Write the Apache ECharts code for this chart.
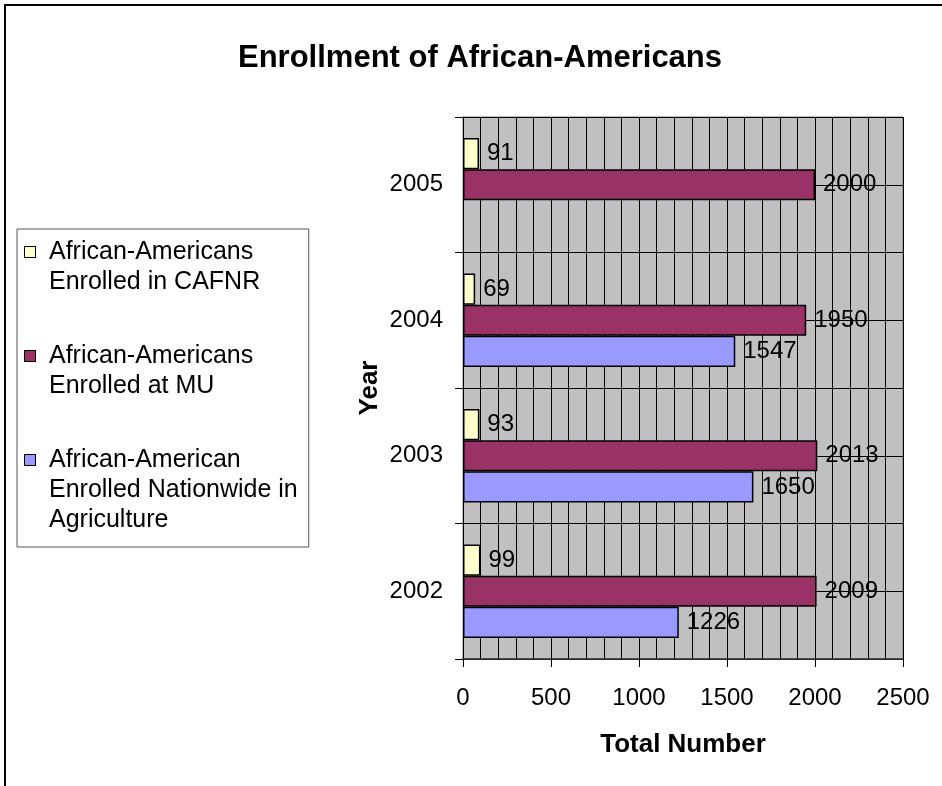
<!DOCTYPE html>
<html>
<head>
<meta charset="utf-8">
<script src="https://cdn.jsdelivr.net/npm/echarts@6/dist/echarts.min.js"></script>
<style>
  html, body { margin: 0; padding: 0; background: #fff; }
  #chart { width: 942px; height: 786px; }
</style>
</head>
<body>
<div id="chart"></div>
<script>
const years = ['2002', '2003', '2004', '2005'];
const seriesNames = [
  'African-Americans\nEnrolled in CAFNR',
  'African-Americans\nEnrolled at MU',
  'African-American\nEnrolled Nationwide in\nAgriculture'
];
const cafnr = [99, 93, 69, 91];
const mu = [2009, 2013, 1950, 2000];
const nationwide = [1226, 1650, 1547, '-'];
const colors = ['#FFFFCC', '#993366', '#9999FF'];

const font = 'Liberation Sans, Arial, sans-serif';
const myChart = echarts.init(document.getElementById('chart'));

// legend marker sits on the first line of each name, so draw it with rich text
const rich = { gap: { width: 14 }, pad: { width: 24 } };
colors.forEach((c, i) => {
  rich['m' + i] = { width: 10, height: 10, backgroundColor: c, borderColor: '#000', borderWidth: 1 };
});

function barSeries(name, values, color) {
  return {
    name: name,
    type: 'bar',
    data: values,
    barGap: '0%',
    barCategoryGap: '31%',
    itemStyle: { color: color, borderColor: '#000', borderWidth: 1.5 },
    label: {
      show: true,
      position: 'right',
      distance: 8,
      fontSize: 24,
      color: '#000',
      fontFamily: font
    }
  };
}

let option = {
  animation: false,
  backgroundColor: '#fff',
  textStyle: { fontFamily: font },
  title: {
    text: 'Enrollment of African-Americans',
    left: 238,
    top: 43,
    padding: 0,
    textStyle: { fontSize: 31, fontWeight: 'bold', color: '#000', fontFamily: font }
  },
  legend: {
    orient: 'vertical',
    left: 17,
    top: 229,
    padding: [8, 11, 12, 3],
    itemGap: 44,
    icon: 'none',
    itemWidth: 0,
    itemHeight: 10,
    selectedMode: false,
    borderColor: '#555',
    borderWidth: 1,
    backgroundColor: '#fff',
    data: seriesNames,
    formatter: function (name) {
      const idx = seriesNames.indexOf(name);
      return name.split('\n').map((line, j) =>
        j === 0 ? '{m' + idx + '|}{gap|}' + line : '{pad|}' + line
      ).join('\n');
    },
    textStyle: { fontSize: 25, lineHeight: 30, color: '#000', fontFamily: font, rich: rich }
  },
  grid: {
    left: 463,
    right: 39,
    top: 117,
    bottom: 127,
    show: true,
    backgroundColor: '#C0C0C0',
    borderColor: '#808080',
    borderWidth: 1
  },
  xAxis: {
    type: 'value',
    min: 0,
    max: 2500,
    interval: 500,
    name: 'Total Number',
    nameLocation: 'middle',
    nameGap: 73,
    nameTextStyle: { fontSize: 26, fontWeight: 'bold', color: '#000', fontFamily: font },
    axisLine: { show: true, lineStyle: { color: '#333', width: 1.5 } },
    axisTick: { show: true, length: 8, lineStyle: { color: '#000' } },
    axisLabel: { fontSize: 24, color: '#000', margin: 27, formatter: v => String(v) },
    splitLine: { show: true, lineStyle: { color: '#000', width: 1 } },
    minorTick: { show: false, splitNumber: 5 },
    minorSplitLine: { show: true, lineStyle: { color: '#000', width: 1 } }
  },
  yAxis: [
    {
      type: 'category',
      data: years,
      name: 'Year',
      nameLocation: 'middle',
      nameGap: 80,
      nameRotate: 90,
      nameTextStyle: { fontSize: 26, fontWeight: 'bold', color: '#000', fontFamily: font },
      axisLine: { show: true, lineStyle: { color: '#000', width: 1 } },
      axisTick: { show: true, length: 8, lineStyle: { color: '#000' } },
      axisLabel: { fontSize: 24, color: '#000', margin: 20 },
      splitLine: { show: false }
    },
    {
      // hidden helper axis for the horizontal gridlines (band edges and centres)
      type: 'value',
      position: 'right',
      min: 0,
      max: 8,
      interval: 1,
      axisLine: { show: false },
      axisTick: { show: false },
      axisLabel: { show: false },
      splitLine: { show: true, lineStyle: { color: '#000', width: 1 } }
    }
  ],
  graphic: [
    {
      type: 'rect',
      shape: { x: 5, y: 5, width: 945, height: 800 },
      style: { fill: null, stroke: '#000', lineWidth: 2 },
      silent: true,
      z: -10
    }
  ],
  series: [
    barSeries(seriesNames[0], cafnr, colors[0]),
    barSeries(seriesNames[1], mu, colors[1]),
    barSeries(seriesNames[2], nationwide, colors[2])
  ]
};

myChart.setOption(option);
</script>
</body>
</html>
